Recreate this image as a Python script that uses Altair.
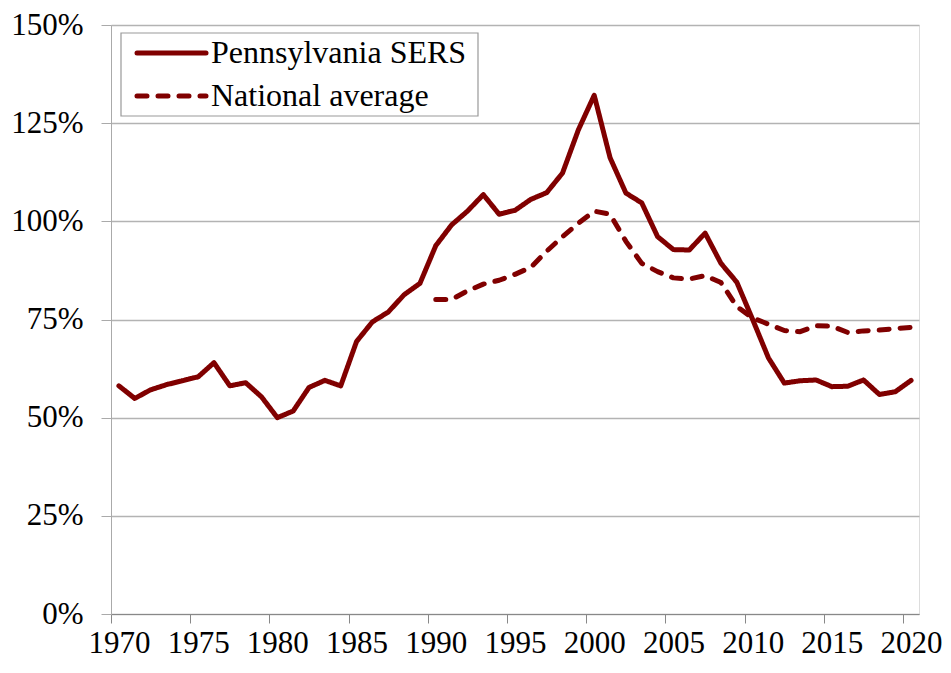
import altair as alt
import pandas as pd

years = list(range(1970, 2021))
pa_sers = [58.1, 54.9, 57.1, 58.4, 59.4, 60.4, 64.0, 58.1, 58.9, 55.3,
           50.0, 51.7, 57.7, 59.5, 58.1, 69.4, 74.4, 76.9, 81.3, 84.2,
           93.8, 99.1, 102.6, 106.8, 101.8, 102.8, 105.6, 107.3, 112.3, 123.3,
           132.1, 116.2, 107.2, 104.7, 96.1, 92.8, 92.7, 97.0, 89.3, 84.5,
           75.0, 65.2, 58.8, 59.4, 59.6, 57.9, 58.0, 59.6, 55.9, 56.6,
           59.5]
nat_years = list(range(1990, 2021))
nat_avg = [80.1, 80.1, 82.3, 84.0, 85.0, 86.5, 88.3, 92.4, 96.1, 99.5,
           102.6, 101.8, 94.9, 89.3, 87.2, 85.6, 85.3, 86.2, 84.4, 78.3,
           75.4, 73.8, 72.2, 71.9, 73.4, 73.3, 71.7, 72.1, 72.3, 72.7,
           73.0]
series_names = ["Pennsylvania SERS", "National average"]
x_ticks = list(range(1970, 2021, 5))
y_ticks = [0, 25, 50, 75, 100, 125, 150]

df = pd.concat([
    pd.DataFrame({"year": years, "value": pa_sers, "series": series_names[0]}),
    pd.DataFrame({"year": nat_years, "value": nat_avg, "series": series_names[1]}),
])

font = "Liberation Serif"
maroon = "#800000"
dash = [10, 11]

lines = alt.Chart(df).mark_line(strokeWidth=5, strokeCap="round", strokeJoin="round",
                                color=maroon).encode(
    x=alt.X("year:Q",
            scale=alt.Scale(domain=[1969.5, 2020.5], nice=False, zero=False),
            axis=alt.Axis(values=x_ticks, format="d", title=None, grid=False,
                          tickOffset=-8, labelOffset=8, tickSize=9,
                          labelPadding=5, labelFontSize=31, labelFont=font,
                          labelColor="black", domainColor="#888888",
                          tickColor="#888888", labelFlush=False)),
    y=alt.Y("value:Q",
            scale=alt.Scale(domain=[0, 150], nice=False),
            axis=alt.Axis(values=y_ticks, title=None, grid=True,
                          gridColor="#b3b3b3", gridWidth=1.3,
                          labelExpr="datum.value + '%'", tickSize=10,
                          labelPadding=18, labelFontSize=31, labelFont=font,
                          labelColor="black", domainColor="#aaaaaa",
                          tickColor="#aaaaaa", labelBaseline="middle")),
    strokeDash=alt.StrokeDash("series:N",
                              scale=alt.Scale(domain=series_names,
                                              range=[[1, 0], dash]),
                              legend=None),
)

# legend: one row per entry, drawn inside the plot area (top-left)
leg1 = pd.DataFrame({"series": [series_names[0]]})
leg2 = pd.DataFrame({"series": [series_names[1]]})

box = alt.Chart(leg1).mark_rect(fill="white", stroke="#999999", strokeWidth=1.2).encode(
    x=alt.value(10), x2=alt.value(367), y=alt.value(8), y2=alt.value(91))
sym1 = alt.Chart(leg1).mark_rule(color=maroon, strokeWidth=5, strokeCap="round").encode(
    x=alt.value(26), x2=alt.value(95), y=alt.value(28))
sym2 = alt.Chart(leg2).mark_rule(color=maroon, strokeWidth=5, strokeCap="round",
                                 strokeDash=dash).encode(
    x=alt.value(26), x2=alt.value(95), y=alt.value(71))
lab1 = alt.Chart(leg1).mark_text(font=font, fontSize=32, align="left",
                                 baseline="alphabetic", color="black").encode(
    text="series:N", x=alt.value(100), y=alt.value(38))
lab2 = alt.Chart(leg2).mark_text(font=font, fontSize=32, align="left",
                                 baseline="alphabetic", color="black").encode(
    text="series:N", x=alt.value(100), y=alt.value(81))

chart = alt.layer(lines, box, sym1, sym2, lab1, lab2).properties(
    width=808, height=589,
    padding={"left": 103, "top": 17, "right": 24, "bottom": 46},
    autosize=alt.AutoSizeParams(type="none"),
).configure_view(stroke=None).configure(background="white")

chart.save("out.html", embed_options={"renderer": "svg", "actions": False})
